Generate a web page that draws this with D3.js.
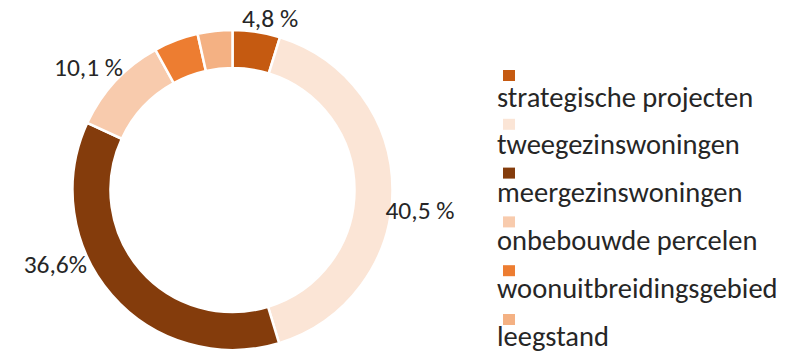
<!DOCTYPE html>
<html>
<head>
<meta charset="utf-8">
<script src="https://cdn.jsdelivr.net/npm/d3@7"></script>
<style>
  html, body { margin: 0; padding: 0; background: #fff; }
  svg { display: block; font-family: Carlito, Calibri, Lato, "Open Sans", sans-serif; }
</style>
</head>
<body>
<svg id="chart" width="794" height="355"></svg>
<script>
// Share of housing supply per category (percent)
const categories = [
  "strategische projecten",
  "tweegezinswoningen",
  "meergezinswoningen",
  "onbebouwde percelen",
  "woonuitbreidingsgebied",
  "leegstand"
];
const values = [4.8, 40.5, 36.6, 10.1, 4.5, 3.5];
const valueLabels = ["4,8 %", "40,5 %", "36,6%", "10,1 %", null, null];
const colors = ["#C55A11", "#FBE5D6", "#843C0C", "#F8CBAD", "#ED7D31", "#F4B183"];

const svg = d3.select("#chart");
const cx = 232.5, cy = 190, outerR = 160, innerR = 122;

const data = categories.map((c, i) => ({ name: c, value: values[i], label: valueLabels[i], color: colors[i] }));

const pie = d3.pie().value(d => d.value).sort(null);
const arcs = pie(data);
const arc = d3.arc().innerRadius(innerR).outerRadius(outerR);

const ring = svg.append("g").attr("transform", `translate(${cx},${cy})`);
ring.selectAll("path")
  .data(arcs)
  .join("path")
  .attr("d", arc)
  .attr("fill", d => d.data.color)
  .attr("stroke", "#fff")
  .attr("stroke-width", 2.5);

// Value labels: placed from each slice's outer mid-point, nudged clear of the ring
const labelNudge = [[13.5, -13.5], [27.5, 20], [-56.5, -31], [-27, -13.5], [0, 0], [0, 0]];
ring.selectAll("text.value")
  .data(arcs.filter(d => d.data.label))
  .join("text")
  .attr("class", "value")
  .attr("x", d => {
    const a = (d.startAngle + d.endAngle) / 2;
    return outerR * Math.sin(a) + labelNudge[d.index][0];
  })
  .attr("y", d => {
    const a = (d.startAngle + d.endAngle) / 2;
    return -outerR * Math.cos(a) + labelNudge[d.index][1];
  })
  .attr("dy", "0.34em")
  .attr("text-anchor", "middle")
  .attr("font-size", 25.5)
  .attr("fill", "#262626")
  .text(d => d.data.label);

// Legend: swatch above each name
const swatchY = d3.scalePoint().domain(categories).range([70, 314]);
const textY = d3.scalePoint().domain(categories).range([106.5, 346]);
const legend = svg.append("g");
const rows = legend.selectAll("g")
  .data(data)
  .join("g");
rows.append("rect")
  .attr("x", 503).attr("y", d => swatchY(d.name))
  .attr("width", 12).attr("height", 11)
  .attr("fill", d => d.color);
rows.append("text")
  .attr("x", 497).attr("y", d => textY(d.name))
  .attr("font-size", 28.5)
  .attr("fill", "#262626")
  .text(d => d.name);
</script>
</body>
</html>
